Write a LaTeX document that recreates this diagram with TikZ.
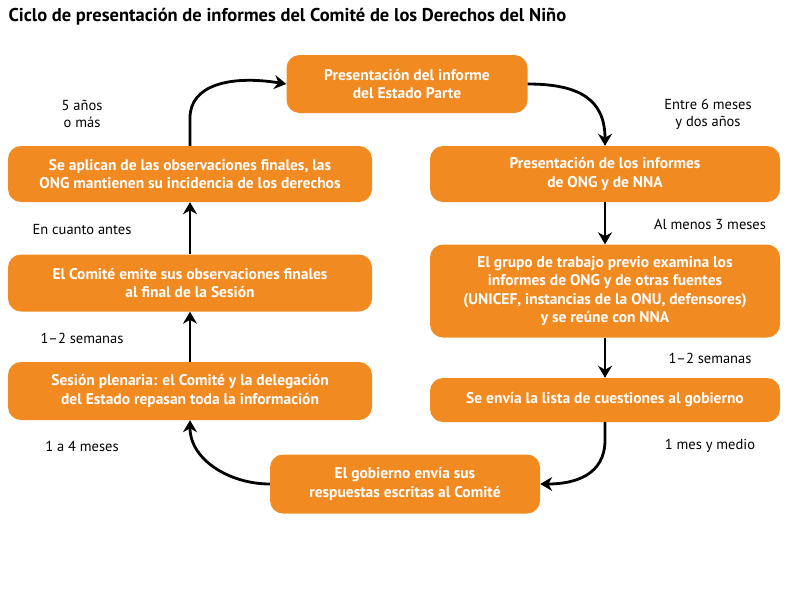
\documentclass[tikz,border=0pt]{standalone}
\usepackage{fontspec}
\setmainfont{PT Sans}
\usetikzlibrary{arrows.meta}
\definecolor{org}{HTML}{F18A21}
\begin{document}
\begin{tikzpicture}[x=1pt,y=-1pt,
 box/.style={fill=org,rounded corners=13pt,text=white,font=\bfseries\fontsize{15.5}{18.5}\selectfont,align=center,inner sep=0pt},
 lab/.style={font=\fontsize{14.5}{17}\selectfont,align=center},
 arr/.style={line width=2.8pt,-{Stealth[length=12pt,width=14pt]}}]
\useasboundingbox (0,0) rectangle (798,614);
\node[anchor=west,font=\bfseries\fontsize{18.5}{21}\selectfont] (title) at (5,17) {Ciclo de presentación de informes del Comité de los Derechos del Niño};
\node[box,minimum width=241pt,minimum height=58pt] (top) at (407,84) {Presentación del informe\\del Estado Parte};
\node[box,minimum width=350pt,minimum height=56pt] (r1) at (605,174) {Presentación de los informes\\de ONG y de NNA};
\node[box,minimum width=350pt,minimum height=93pt] (r2) at (605,291) {El grupo de trabajo previo examina los\\informes de ONG y de otras fuentes\\(UNICEF, instancias de la ONU, defensores)\\y se reúne con NNA};
\node[box,minimum width=350pt,minimum height=44pt] (r3) at (605,400) {Se envía la lista de cuestiones al gobierno};
\node[box,minimum width=270pt,minimum height=59pt] (bot) at (405,484) {El gobierno envía sus\\respuestas escritas al Comité};
\node[box,minimum width=364pt,minimum height=56pt] (l1) at (190,174) {Se aplican de las observaciones finales, las\\ONG mantienen su incidencia de los derechos};
\node[box,minimum width=364pt,minimum height=57pt] (l2) at (190,283) {El Comité emite sus observaciones finales\\al final de la Sesión};
\node[box,minimum width=364pt,minimum height=58pt] (l3) at (190,391) {Sesión plenaria: el Comité y la delegación\\del Estado repasan toda la información};
\draw[arr] (l1.north) -- (190,118) .. controls (190,85) and (230,75) .. (top.west);
\draw[arr] (top.east) .. controls (580,84) and (605,100) .. (r1.north);
\draw[arr] (r1.south) -- (r2.north);
\draw[arr] (r2.south) -- (r3.north);
\draw[arr] (r3.south) -- (605,440) .. controls (605,475) and (575,484) .. (bot.east);
\draw[arr] (bot.west) .. controls (230,484) and (190,460) .. (l3.south);
\draw[arr] (l3.north) -- (l2.south);
\draw[arr] (l2.north) -- (l1.south);
\node[lab] (a) at (82,114) {5 años\\o más};
\node[lab] (b) at (708,114) {Entre 6 meses\\y dos años};
\node[lab] (c) at (82,230) {En cuanto antes};
\node[lab] (d) at (710,224) {Al menos 3 meses};
\node[lab] (e) at (82,338) {1–2 semanas};
\node[lab] (f) at (710,358) {1–2 semanas};
\node[lab] (g) at (82,446) {1 a 4 meses};
\node[lab] (h) at (710,446) {1 mes y medio};
\end{tikzpicture}
\end{document}
